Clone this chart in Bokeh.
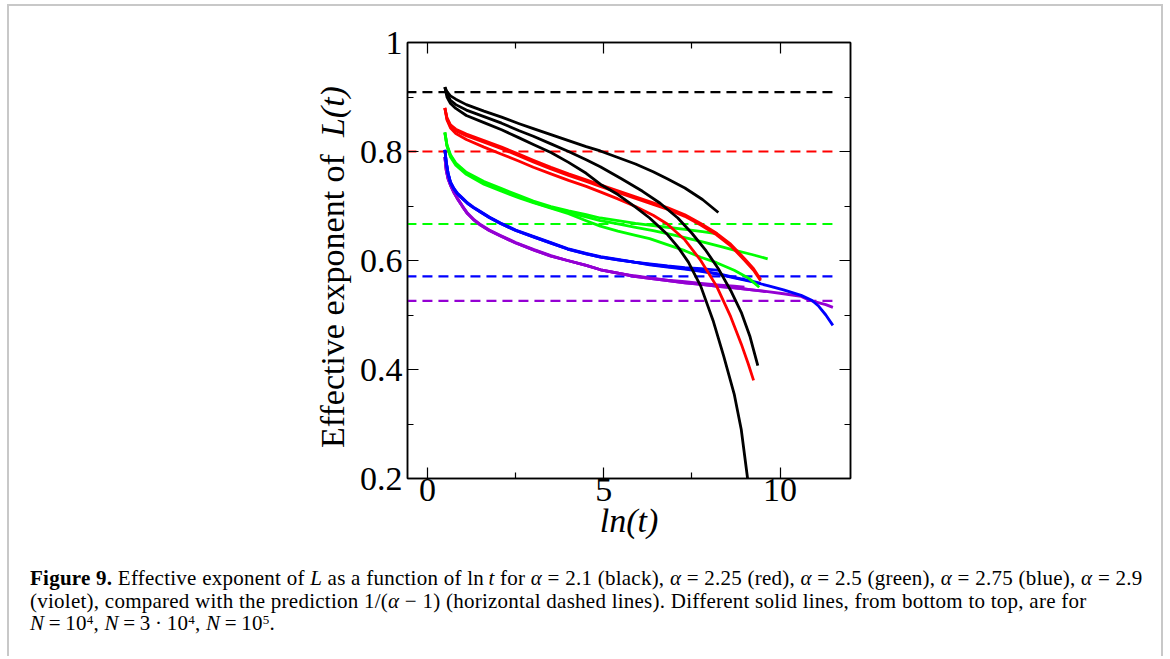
from bokeh.plotting import figure
from bokeh.models import Range1d, FixedTicker, LinearAxis, CustomJSTickFormatter, Div, Spacer
from bokeh.layouts import column, row
from bokeh.embed import file_html
from bokeh.resources import INLINE

# ---------------- data ----------------
x_ticks = [0, 5, 10]
x_minor = [2.5, 7.5]
y_ticks = [0.2, 0.4, 0.6, 0.8, 1.0]
y_minor = [0.3, 0.5, 0.7, 0.9]

# predictions 1/(alpha-1) for alpha = 2.1, 2.25, 2.5, 2.75, 2.9
pred_values = [0.909, 0.8, 0.667, 0.571, 0.526]
pred_x = [-0.6, 11.5]

# black, alpha = 2.1  (N = 1e4, 3e4, 1e5)
bk1_x = [0.49, 0.55, 0.65, 0.8, 1.1, 1.6, 2.1, 2.6, 3.0, 3.5, 4.0, 4.5, 4.9, 5.4, 5.9, 6.3, 6.8, 7.1, 7.4, 7.75, 8.1, 8.4, 8.7, 8.9, 9.08]
bk1_y = [0.918, 0.900, 0.888, 0.879, 0.866, 0.853, 0.840, 0.825, 0.813, 0.798, 0.780, 0.760, 0.740, 0.721, 0.698, 0.678, 0.648, 0.625, 0.597, 0.553, 0.490, 0.425, 0.355, 0.290, 0.200]
bk2_x = [0.49, 0.55, 0.65, 0.8, 1.1, 1.6, 2.1, 2.6, 3.0, 3.5, 4.0, 4.5, 4.9, 5.5, 6.1, 6.6, 7.1, 7.5, 7.9, 8.25, 8.6, 8.9, 9.15, 9.37]
bk2_y = [0.918, 0.905, 0.894, 0.886, 0.876, 0.864, 0.852, 0.838, 0.828, 0.814, 0.800, 0.785, 0.772, 0.750, 0.727, 0.705, 0.678, 0.650, 0.618, 0.585, 0.545, 0.505, 0.460, 0.407]
bk3_x = [0.49, 0.55, 0.65, 0.8, 1.1, 1.6, 2.1, 2.6, 3.0, 3.5, 4.0, 4.5, 4.9, 5.4, 5.9, 6.4, 6.8, 7.3, 7.8, 8.25]
bk3_y = [0.918, 0.910, 0.902, 0.896, 0.886, 0.874, 0.863, 0.851, 0.842, 0.831, 0.820, 0.809, 0.801, 0.789, 0.777, 0.763, 0.750, 0.733, 0.712, 0.688]

# red, alpha = 2.25
rd1_x = [0.49, 0.55, 0.65, 0.8, 1.1, 1.6, 2.1, 2.6, 3.0, 3.5, 4.0, 4.5, 4.9, 5.4, 5.9, 6.4, 6.8, 7.3, 7.75, 8.2, 8.6, 8.9, 9.1, 9.25]
rd1_y = [0.880, 0.858, 0.843, 0.833, 0.822, 0.808, 0.795, 0.782, 0.771, 0.759, 0.747, 0.736, 0.726, 0.713, 0.699, 0.683, 0.667, 0.638, 0.600, 0.553, 0.497, 0.447, 0.410, 0.380]
rd2_x = [0.49, 0.55, 0.65, 0.8, 1.1, 1.6, 2.1, 2.6, 3.0, 3.5, 4.0, 4.5, 4.9, 5.4, 5.9, 6.4, 6.8, 7.3, 7.75, 8.2, 8.6, 9.0, 9.25, 9.45]
rd2_y = [0.880, 0.860, 0.846, 0.838, 0.829, 0.817, 0.805, 0.792, 0.781, 0.768, 0.756, 0.745, 0.736, 0.725, 0.714, 0.703, 0.694, 0.681, 0.665, 0.647, 0.627, 0.600, 0.582, 0.563]
rd3_x = [0.49, 0.55, 0.65, 0.8, 1.1, 1.6, 2.1, 2.6, 3.0, 3.5, 4.0, 4.5, 4.9, 5.4, 5.9, 6.4, 6.8, 7.3, 7.75, 8.2, 8.6, 9.0, 9.25, 9.45]
rd3_y = [0.880, 0.862, 0.849, 0.841, 0.832, 0.820, 0.808, 0.795, 0.784, 0.771, 0.759, 0.748, 0.739, 0.728, 0.717, 0.706, 0.697, 0.684, 0.668, 0.650, 0.630, 0.603, 0.585, 0.565]

# green, alpha = 2.5
gr1_x = [0.49, 0.55, 0.65, 0.8, 1.1, 1.6, 2.1, 2.6, 3.0, 3.5, 4.0, 4.5, 4.9, 5.4, 5.9, 6.3, 6.8, 7.3, 7.75, 8.2, 8.7, 9.1, 9.41]
gr1_y = [0.835, 0.810, 0.790, 0.775, 0.758, 0.740, 0.727, 0.715, 0.706, 0.696, 0.686, 0.673, 0.663, 0.654, 0.646, 0.640, 0.629, 0.618, 0.606, 0.596, 0.582, 0.568, 0.551]
gr2_x = [0.49, 0.55, 0.65, 0.8, 1.1, 1.6, 2.1, 2.6, 3.0, 3.5, 4.0, 4.5, 4.9, 5.4, 5.9, 6.4, 6.9, 7.3, 7.8, 8.3, 8.7, 9.2, 9.65]
gr2_y = [0.835, 0.811, 0.792, 0.777, 0.760, 0.743, 0.730, 0.717, 0.707, 0.697, 0.688, 0.680, 0.673, 0.667, 0.661, 0.655, 0.648, 0.642, 0.634, 0.626, 0.619, 0.611, 0.603]
gr3_x = [0.49, 0.55, 0.65, 0.8, 1.1, 1.6, 2.1, 2.6, 3.0, 3.5, 4.0, 4.5, 4.9, 5.4, 5.9, 6.4, 6.8, 7.3, 7.8, 8.23]
gr3_y = [0.835, 0.812, 0.794, 0.779, 0.762, 0.745, 0.732, 0.719, 0.709, 0.699, 0.691, 0.684, 0.678, 0.673, 0.668, 0.664, 0.661, 0.657, 0.653, 0.649]

# blue, alpha = 2.75
bl1_x = [0.49, 0.53, 0.58, 0.65, 0.75, 0.84, 1.0, 1.13, 1.3, 1.5, 1.75, 2.07, 2.5, 3.02, 3.5, 3.97, 4.5, 4.91, 5.4, 5.86, 6.3, 6.81, 7.3, 7.76, 8.28]
bl1_y = [0.803, 0.780, 0.760, 0.743, 0.731, 0.723, 0.713, 0.705, 0.697, 0.689, 0.679, 0.668, 0.655, 0.643, 0.632, 0.621, 0.612, 0.606, 0.601, 0.597, 0.594, 0.590, 0.587, 0.585, 0.582]
bl2_x = [0.49, 0.53, 0.58, 0.65, 0.75, 0.84, 1.0, 1.13, 1.3, 1.5, 1.75, 2.07, 2.5, 3.02, 3.5, 3.97, 4.5, 4.91, 5.4, 5.86, 6.3, 6.81, 7.3, 7.76, 8.3, 8.7, 9.2, 9.45]
bl2_y = [0.803, 0.781, 0.761, 0.744, 0.732, 0.724, 0.714, 0.706, 0.698, 0.690, 0.680, 0.669, 0.656, 0.644, 0.633, 0.622, 0.613, 0.607, 0.602, 0.597, 0.593, 0.589, 0.585, 0.581, 0.575, 0.569, 0.562, 0.558]
bl3_x = [0.49, 0.53, 0.58, 0.65, 0.75, 0.84, 1.0, 1.13, 1.3, 1.5, 1.75, 2.07, 2.5, 3.02, 3.5, 3.97, 4.5, 4.91, 5.4, 5.86, 6.3, 6.81, 7.3, 7.76, 8.3, 8.7, 9.2, 9.65, 10.1, 10.6, 10.9, 11.1, 11.3, 11.5]
bl3_y = [0.803, 0.780, 0.760, 0.743, 0.731, 0.723, 0.713, 0.705, 0.697, 0.689, 0.679, 0.668, 0.655, 0.643, 0.632, 0.621, 0.612, 0.606, 0.601, 0.597, 0.592, 0.588, 0.584, 0.580, 0.574, 0.568, 0.561, 0.554, 0.546, 0.536, 0.527, 0.516, 0.500, 0.481]

# violet, alpha = 2.9
vi1_x = [0.49, 0.53, 0.58, 0.65, 0.75, 0.84, 1.0, 1.13, 1.3, 1.5, 1.75, 2.07, 2.5, 3.02, 3.5, 3.97, 4.5, 4.91, 5.4, 5.86, 6.3, 6.81, 7.3, 7.76, 8.3, 8.7, 8.99]
vi1_y = [0.790, 0.765, 0.750, 0.738, 0.724, 0.714, 0.698, 0.686, 0.675, 0.665, 0.655, 0.645, 0.632, 0.619, 0.608, 0.600, 0.591, 0.583, 0.577, 0.572, 0.568, 0.564, 0.561, 0.558, 0.555, 0.553, 0.551]
vi2_x = [0.49, 0.53, 0.58, 0.65, 0.75, 0.84, 1.0, 1.13, 1.3, 1.5, 1.75, 2.07, 2.5, 3.02, 3.5, 3.97, 4.5, 4.91, 5.4, 5.86, 6.3, 6.81, 7.3, 7.76, 8.3, 8.7, 9.2, 9.6]
vi2_y = [0.790, 0.766, 0.751, 0.739, 0.725, 0.715, 0.699, 0.687, 0.676, 0.666, 0.656, 0.646, 0.633, 0.620, 0.609, 0.600, 0.591, 0.583, 0.577, 0.571, 0.567, 0.563, 0.559, 0.556, 0.552, 0.550, 0.546, 0.543]
vi3_x = [0.49, 0.53, 0.58, 0.65, 0.75, 0.84, 1.0, 1.13, 1.3, 1.5, 1.75, 2.07, 2.5, 3.02, 3.5, 3.97, 4.5, 4.91, 5.4, 5.86, 6.3, 6.81, 7.3, 7.76, 8.3, 8.7, 9.2, 9.65, 10.1, 10.6, 10.8, 11.0, 11.3, 11.5]
vi3_y = [0.790, 0.765, 0.750, 0.738, 0.724, 0.714, 0.698, 0.686, 0.675, 0.665, 0.655, 0.645, 0.632, 0.619, 0.608, 0.600, 0.591, 0.583, 0.577, 0.571, 0.567, 0.563, 0.559, 0.556, 0.552, 0.550, 0.546, 0.543, 0.539, 0.534, 0.528, 0.524, 0.519, 0.514]

colors = {"black": "#000000", "red": "#ff0000", "green": "#00ff00", "blue": "#0000ff", "violet": "#9400d3"}
pred_colors = ["black", "red", "green", "blue", "violet"]

series = [
    ("violet", [(vi1_x, vi1_y), (vi2_x, vi2_y), (vi3_x, vi3_y)]),
    ("blue", [(bl1_x, bl1_y), (bl2_x, bl2_y), (bl3_x, bl3_y)]),
    ("green", [(gr1_x, gr1_y), (gr2_x, gr2_y), (gr3_x, gr3_y)]),
    ("red", [(rd1_x, rd1_y), (rd2_x, rd2_y), (rd3_x, rd3_y)]),
    ("black", [(bk1_x, bk1_y), (bk2_x, bk2_y), (bk3_x, bk3_y)]),
]

FONT = "Liberation Serif"
BORDER = "#c8c8c8"

# ---------------- layout geometry (page px) ----------------
# content box starts at page (9, 6); frame spans x 407..850, y 42..478
YLAB_W = 345
FIG_W = 1152 - YLAB_W
FIG_H = 548
CAP_H = 102

fig = figure(width=FIG_W, height=FIG_H, output_backend="svg", toolbar_location=None,
             x_range=Range1d(-0.57, 12.0), y_range=Range1d(0.2, 1.0),
             min_border_left=407 - 9 - YLAB_W, min_border_right=1161 - 850,
             min_border_top=36, min_border_bottom=6 + FIG_H - 478,
             background_fill_color="white", border_fill_color="white")
fig.grid.visible = False
fig.outline_line_color = "black"
fig.outline_line_width = 1.5

for v, c in zip(pred_values, pred_colors):
    fig.line(pred_x, [v, v], line_color=colors[c], line_width=2.2, line_dash="10 6")

for c, curves in series:
    for xs, ys in curves:
        fig.line(xs, ys, line_color=colors[c], line_width=2.8, line_join="round")


def style_axis(ax, show_labels, standoff):
    ax.axis_line_color = "black"
    ax.axis_line_width = 1.5
    ax.major_tick_in = 11
    ax.major_tick_out = 0
    ax.minor_tick_in = 6
    ax.minor_tick_out = 0
    ax.major_tick_line_color = "black"
    ax.minor_tick_line_color = "black"
    ax.major_tick_line_width = 1.2
    ax.minor_tick_line_width = 1.2
    ax.major_label_text_font = FONT
    ax.major_label_standoff = standoff
    if show_labels:
        ax.major_label_text_font_size = "34px"
        ax.major_label_text_color = "black"
    else:
        ax.major_label_text_font_size = "1px"
        ax.major_label_text_color = None


fmt = CustomJSTickFormatter(code="return String(tick);")

xb = fig.xaxis[0]
xb.ticker = FixedTicker(ticks=x_ticks, minor_ticks=x_minor)
xb.formatter = fmt
style_axis(xb, True, 0)
xb.axis_label = "ln(t)"
xb.axis_label_text_font = FONT
xb.axis_label_text_font_style = "italic"
xb.axis_label_text_font_size = "34px"
xb.axis_label_text_color = "black"
xb.axis_label_standoff = -2

yl = fig.yaxis[0]
yl.ticker = FixedTicker(ticks=y_ticks, minor_ticks=y_minor)
yl.formatter = fmt
style_axis(yl, True, 5)

xt = LinearAxis(ticker=FixedTicker(ticks=x_ticks, minor_ticks=x_minor),
                formatter=CustomJSTickFormatter(code="return '';"))
style_axis(xt, False, 0)
fig.add_layout(xt, "above")
yr = LinearAxis(ticker=FixedTicker(ticks=y_ticks, minor_ticks=y_minor),
                formatter=CustomJSTickFormatter(code="return '';"))
style_axis(yr, False, 0)
fig.add_layout(yr, "right")

# y-axis title (rotated HTML so that L(t) can be italic)
ylab_html = (
    '<div style="margin-left:307px;margin-top:442px;width:10px;white-space:nowrap;'
    'transform-origin:0 0;transform:rotate(-90deg);font-family:\'Liberation Serif\',serif;'
    'font-size:34px;line-height:34px;color:#000;">'
    'Effective exponent of&nbsp; <i>L(t)</i></div>'
)
ylab = Div(text=ylab_html, width=YLAB_W, height=FIG_H, margin=0)

SUP = '<sup style="font-size:13px;line-height:0;vertical-align:6px">'
caption_html = (
    '<div style="font-family:\'Liberation Serif\',serif;font-size:21px;line-height:22.5px;color:#000;'
    'letter-spacing:0.25px;white-space:nowrap;padding:13px 0 0 21px;margin:0;">'
    '<b>Figure 9.</b> Effective exponent of <i>L</i> as a function of '
    'ln&#8201;<i>t</i> for '
    '<i>&alpha;</i> = 2.1 (black), <i>&alpha;</i> = 2.25 (red), '
    '<i>&alpha;</i> = 2.5 (green), <i>&alpha;</i> = 2.75 (blue), <i>&alpha;</i> = 2.9<br>'
    '(violet), compared with the prediction 1/(<i>&alpha;</i> &minus; 1) (horizontal dashed lines). '
    'Different solid lines, from bottom to top, are for<br>'
    '<i>N</i>&#8201;=&#8201;10' + SUP + '4</sup>, '
    '<i>N</i>&#8201;=&#8201;3&#8201;&middot;&#8201;10' + SUP + '4</sup>, '
    '<i>N</i>&#8201;=&#8201;10' + SUP + '5</sup>.'
    '</div>'
)
cap = Div(text=caption_html, width=1152, height=CAP_H, margin=0)

inner = column(row(ylab, fig), cap)
bar_style = {"background-color": BORDER}
left_bar = Div(text="", width=2, height=FIG_H + CAP_H, styles=bar_style, margin=0)
right_bar = Div(text="", width=2, height=FIG_H + CAP_H, styles=bar_style, margin=0)
top_bar = Div(text="", width=1156, height=2, styles=bar_style, margin=0)
box = column(top_bar, row(left_bar, inner, right_bar))

p = column(Spacer(height=4), row(Spacer(width=7), box))

open("out.html", "w").write(file_html(p, INLINE))
